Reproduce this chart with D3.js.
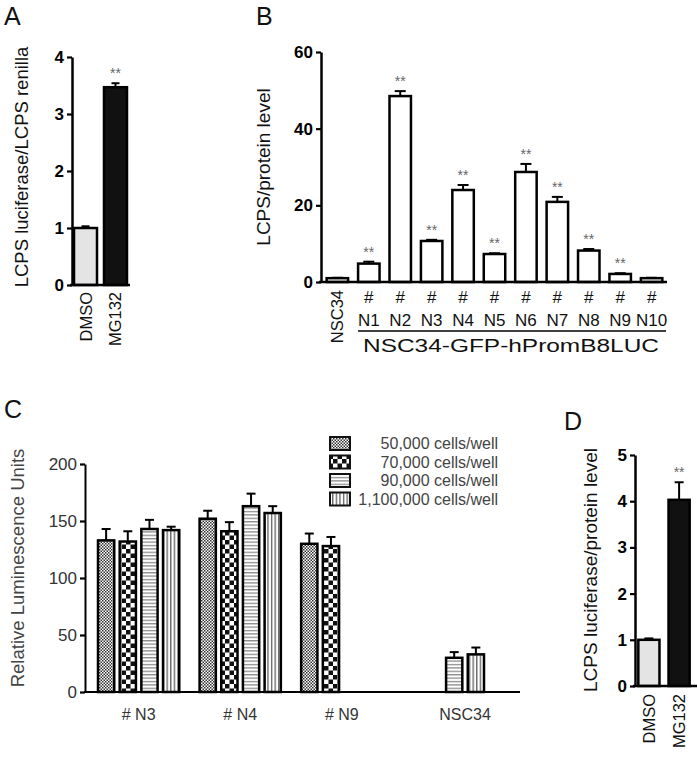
<!DOCTYPE html>
<html>
<head>
<meta charset="utf-8">
<script src="https://cdn.jsdelivr.net/npm/d3@7"></script>
<style>
  body { margin: 0; background: #fff; }
  text { font-family: "Liberation Sans", Arial, sans-serif; }
</style>
</head>
<body>
<svg id="fig" width="697" height="759"></svg>
<script>
// panel A
const catsA = ["DMSO", "MG132"];
const valsA = [1.0, 3.47];
const errA = [0.03, 0.07];
const sigA = ["", "**"];
const ticksA = [0, 1, 2, 3, 4];

// panel B
const catsB = ["NSC34", "N1", "N2", "N3", "N4", "N5", "N6", "N7", "N8", "N9", "N10"];
const valsB = [1.0, 4.8, 48.5, 10.7, 24.0, 7.3, 28.7, 20.9, 8.2, 2.1, 1.0];
const errB = [0.1, 0.5, 1.3, 0.3, 1.3, 0.2, 2.1, 1.3, 0.4, 0.2, 0.1];
const sigB = ["", "**", "**", "**", "**", "**", "**", "**", "**", "**", ""];
const ticksB = [0, 20, 40, 60];

// panel C
const groupsC = ["# N3", "# N4", "# N9", "NSC34"];
const seriesC = ["50,000 cells/well", "70,000 cells/well", "90,000 cells/well", "1,100,000 cells/well"];
const valsC = [[133, 132, 143, 142], [152, 141, 163, 157], [130, 128, null, null], [null, null, 30, 33]];
const errC = [[10, 9, 8, 3], [7, 8, 11, 6], [9, 8, null, null], [null, null, 5, 6]];
const ticksC = [0, 50, 100, 150, 200];

// panel D
const catsD = ["DMSO", "MG132"];
const valsD = [1.0, 4.03];
const errD = [0.03, 0.38];
const sigD = ["", "**"];
const ticksD = [0, 1, 2, 3, 4, 5];

let svg = d3.select("#fig");

// fill patterns for panel C
let defs = svg.append("defs");
let p1 = defs.append("pattern").attr("id", "pat0").attr("patternUnits", "userSpaceOnUse").attr("width", 3).attr("height", 3);
p1.append("rect").attr("width", 3).attr("height", 3).attr("fill", "#fff");
p1.append("rect").attr("width", 1.5).attr("height", 1.5).attr("fill", "#333");
p1.append("rect").attr("x", 1.5).attr("y", 1.5).attr("width", 1.5).attr("height", 1.5).attr("fill", "#333");
let p2 = defs.append("pattern").attr("id", "pat1").attr("patternUnits", "userSpaceOnUse").attr("width", 9).attr("height", 9);
p2.append("rect").attr("width", 9).attr("height", 9).attr("fill", "#fff");
p2.append("rect").attr("width", 4.5).attr("height", 4.5).attr("fill", "#111");
p2.append("rect").attr("x", 4.5).attr("y", 4.5).attr("width", 4.5).attr("height", 4.5).attr("fill", "#111");
let p3 = defs.append("pattern").attr("id", "pat2").attr("patternUnits", "userSpaceOnUse").attr("width", 4).attr("height", 3.4);
p3.append("rect").attr("width", 4).attr("height", 3.4).attr("fill", "#fff");
p3.append("rect").attr("y", 1).attr("width", 4).attr("height", 1.1).attr("fill", "#777");
let p4 = defs.append("pattern").attr("id", "pat3").attr("patternUnits", "userSpaceOnUse").attr("width", 3.6).attr("height", 4);
p4.append("rect").attr("width", 3.6).attr("height", 4).attr("fill", "#fff");
p4.append("rect").attr("x", 1).attr("width", 1.2).attr("height", 4).attr("fill", "#555");

function panelLetter(t, x, y) {
    svg.append("text").attr("x", x).attr("y", y).attr("font-size", 25).attr("fill", "#111").text(t);
}

function yAxis(y, ticks, x0, color, fs, weight) {
    let g = svg.append("g").attr("transform", "translate(" + x0 + ",0)")
        .call(d3.axisLeft(y).tickValues(ticks).tickFormat(d3.format("d")).tickSize(5).tickSizeOuter(0).tickPadding(3));
    g.select(".domain").attr("stroke", "#000").attr("stroke-width", 2.5);
    g.selectAll(".tick line").attr("stroke", "#000").attr("stroke-width", 2.2);
    g.selectAll(".tick text").attr("font-size", fs).attr("font-family", "Liberation Sans, Arial")
        .attr("font-weight", weight).attr("fill", color);
    return g;
}

function yTitle(t, x, y, fs, color) {
    svg.append("text").attr("transform", "translate(" + x + "," + y + ") rotate(-90)")
        .attr("text-anchor", "middle").attr("font-size", fs).attr("fill", color).text(t);
}

// simple bar panel (A, B, D)
function simpleBars(cats, vals, errs, sigs, fills, x, y, capW) {
    let g = svg.append("g");
    cats.forEach((c, i) => {
        let x0 = x(c), w = x.bandwidth(), cx = x0 + w / 2;
        let top = y(vals[i]), eTop = y(vals[i] + errs[i]);
        g.append("line").attr("x1", cx).attr("x2", cx).attr("y1", top).attr("y2", eTop)
            .attr("stroke", "#000").attr("stroke-width", 2);
        g.append("line").attr("x1", cx - capW / 2).attr("x2", cx + capW / 2).attr("y1", eTop).attr("y2", eTop)
            .attr("stroke", "#000").attr("stroke-width", 2);
        g.append("rect").attr("x", x0).attr("y", top).attr("width", w).attr("height", y(0) - top)
            .attr("fill", fills[i]).attr("stroke", "#000").attr("stroke-width", 2.5);
        if (sigs[i]) {
            g.append("text").attr("x", cx).attr("y", eTop - 5).attr("text-anchor", "middle")
                .attr("font-size", 14).attr("fill", "#666").text(sigs[i]);
        }
    });
}

function rotLabels(cats, x, yTop, fs) {
    cats.forEach(c => {
        let cx = x(c) + x.bandwidth() / 2;
        svg.append("text").attr("transform", "translate(" + (cx + 6) + "," + yTop + ") rotate(-90)")
            .attr("text-anchor", "end").attr("font-size", fs).attr("fill", "#111").text(c);
    });
}

// ---- A ----
panelLetter("A", 4, 25);
let xA = d3.scaleBand().domain(catsA).range([72, 129]).paddingInner(0.233).paddingOuter(0.067);
let yA = d3.scaleLinear().domain([0, 4]).range([285, 57]);
simpleBars(catsA, valsA, errA, sigA, ["#e4e4e4", "#111"], xA, yA, 8);
yAxis(yA, ticksA, 72, "#000", 17, "bold");
svg.append("line").attr("x1", 70).attr("x2", 130).attr("y1", yA(0)).attr("y2", yA(0)).attr("stroke", "#000").attr("stroke-width", 2.5);
yTitle("LCPS luciferase/LCPS renilla", 28, 167, 18.5, "#111");
rotLabels(catsA, xA, 292, 16.5);

// ---- B ----
panelLetter("B", 256, 25);
let xB = d3.scaleBand().domain(catsB).range([321, 668]).paddingInner(0.317).paddingOuter(0.18);
let yB = d3.scaleLinear().domain([0, 60]).range([282, 52]);
simpleBars(catsB, valsB, errB, sigB, catsB.map(() => "#fff"), xB, yB, 11);
yAxis(yB, ticksB, 321, "#000", 17, "bold");
svg.append("line").attr("x1", 319).attr("x2", 667).attr("y1", yB(0)).attr("y2", yB(0)).attr("stroke", "#000").attr("stroke-width", 2.5);
yTitle("LCPS/protein level", 270, 167, 19, "#111");
rotLabels(catsB.slice(0, 1), xB, 290, 16.5);
catsB.slice(1).forEach(c => {
    let cx = xB(c) + xB.bandwidth() / 2;
    svg.append("text").attr("x", cx).attr("y", 303).attr("text-anchor", "middle").attr("font-size", 17).attr("fill", "#111").text("#");
    svg.append("text").attr("x", cx).attr("y", 326).attr("text-anchor", "middle").attr("font-size", 17).attr("fill", "#111").text(c);
});
svg.append("line").attr("x1", xB("N1")).attr("x2", 666).attr("y1", 331).attr("y2", 331).attr("stroke", "#000").attr("stroke-width", 1.5);
svg.append("text").attr("x", 511).attr("y", 352).attr("text-anchor", "middle").attr("font-size", 18).attr("fill", "#111")
    .attr("textLength", 296).attr("lengthAdjust", "spacingAndGlyphs")
    .text("NSC34-GFP-hPromB8LUC");

// ---- C ----
panelLetter("C", 4, 418);
let x0C = d3.scaleBand().domain(groupsC).range([85, 497]).paddingInner(0.2).paddingOuter(0.128);
let x1C = d3.scaleBand().domain(seriesC).range([0, x0C.bandwidth()]).paddingInner(0.25);
let yC = d3.scaleLinear().domain([0, 200]).range([692, 464]);
let gC = svg.append("g");
groupsC.forEach((grp, gi) => {
    seriesC.forEach((s, si) => {
        let v = valsC[gi][si];
        if (v == null) return;
        let bx = x0C(grp) + x1C(s), w = x1C.bandwidth(), cx = bx + w / 2;
        let top = yC(v), eTop = yC(v + errC[gi][si]);
        gC.append("line").attr("x1", cx).attr("x2", cx).attr("y1", top).attr("y2", eTop).attr("stroke", "#000").attr("stroke-width", 2);
        gC.append("line").attr("x1", cx - 4.5).attr("x2", cx + 4.5).attr("y1", eTop).attr("y2", eTop).attr("stroke", "#000").attr("stroke-width", 2);
        gC.append("rect").attr("x", bx).attr("y", top).attr("width", w).attr("height", yC(0) - top)
            .attr("fill", "url(#pat" + si + ")").attr("stroke", "#000").attr("stroke-width", 2.5);
    });
    // label sits under the bars that are present when the first series is missing
    let shown = seriesC.filter((s, si) => valsC[gi][si] != null);
    let lx = valsC[gi][0] == null
        ? d3.mean(shown, s => x0C(grp) + x1C(s) + x1C.bandwidth() / 2)
        : x0C(grp) + x0C.bandwidth() / 2;
    svg.append("text").attr("x", lx).attr("y", 720).attr("text-anchor", "middle").attr("font-size", 16).attr("fill", "#333").text(grp);
});
let axC = yAxis(yC, ticksC, 85, "#333", 17, "normal");
axC.select(".domain").attr("stroke-width", 2);
svg.append("line").attr("x1", 84).attr("x2", 520).attr("y1", yC(0)).attr("y2", yC(0)).attr("stroke", "#000").attr("stroke-width", 2);
yTitle("Relative Luminescence Units", 24, 568, 18.5, "#444");

// legend
let leg = svg.append("g");
seriesC.forEach((s, si) => {
    let ly = 437 + si * 18.5;
    leg.append("rect").attr("x", 330).attr("y", ly).attr("width", 20).attr("height", 13)
        .attr("fill", "url(#pat" + si + ")").attr("stroke", "#111").attr("stroke-width", 2);
    leg.append("text").attr("x", 498).attr("y", ly + 12).attr("text-anchor", "end").attr("font-size", 16).attr("fill", "#444").text(s);
});

// ---- D ----
panelLetter("D", 564, 430);
let xD = d3.scaleBand().domain(catsD).range([635, 693]).paddingInner(0.3).paddingOuter(0.11);
let yD = d3.scaleLinear().domain([0, 5]).range([686, 455]);
simpleBars(catsD, valsD, errD, sigD, ["#e4e4e4", "#111"], xD, yD, 9);
yAxis(yD, ticksD, 635, "#000", 17, "bold");
svg.append("line").attr("x1", 633).attr("x2", 697).attr("y1", yD(0)).attr("y2", yD(0)).attr("stroke", "#000").attr("stroke-width", 2.5);
yTitle("LCPS luciferase/protein level", 597, 570, 19, "#111");
rotLabels(catsD, xD, 694, 16.5);
</script>
</body>
</html>
